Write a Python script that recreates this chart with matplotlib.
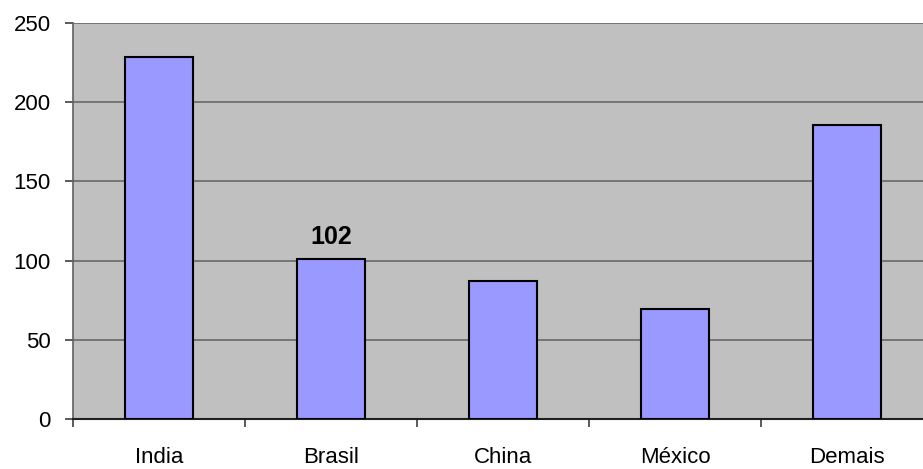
import matplotlib
matplotlib.use("Agg")
import matplotlib.pyplot as plt
import numpy as np

categories = ["India", "Brasil", "China", "México", "Demais"]
values = [228.5, 101, 87, 69.5, 185.5]
annot_index = 1
annot_text = "102"
yticks = [0, 50, 100, 150, 200, 250]

plt.rcParams['font.family'] = ['Liberation Sans', 'DejaVu Sans']

fig = plt.figure(figsize=(9.23, 4.69), dpi=100)
ax = fig.add_axes([73/923, 50/469, 860/923, 396/469])
ax.set_facecolor("#C0C0C0")

x = np.arange(len(categories))
ax.bar(x, values, width=0.395, color="#9999FF", edgecolor="black", linewidth=1.5, zorder=3)
ax.annotate(annot_text, (x[annot_index], values[annot_index]), xytext=(0, 7),
            textcoords="offset points", ha="center", va="bottom",
            fontsize=18, fontweight="bold", zorder=4)

ax.set_xlim(-0.5, len(categories) - 0.5)
ax.set_ylim(0, 250)
ax.set_yticks(yticks)
ax.set_yticklabels([str(v) for v in yticks])
ax.yaxis.grid(True, color="#606060", linewidth=1.1, zorder=1)
ax.set_axisbelow(True)

ax.set_xticks(x)
ax.set_xticklabels(categories)
ax.set_xticks(np.arange(len(categories) + 1) - 0.5, minor=True)
ax.tick_params(axis="x", which="major", length=0, pad=20, labelsize=16)
ax.tick_params(axis="x", which="minor", length=6, width=1.2, color="#404040", direction="out")
ax.tick_params(axis="y", length=6, width=1.2, color="#404040", direction="out", pad=10, labelsize=16)

for s in ["top", "right"]:
    ax.spines[s].set_visible(False)
ax.spines["left"].set_color("#606060")
ax.spines["left"].set_linewidth(1.2)
ax.spines["bottom"].set_color("#202020")
ax.spines["bottom"].set_linewidth(1.5)

fig.savefig("out.png", dpi=100)
